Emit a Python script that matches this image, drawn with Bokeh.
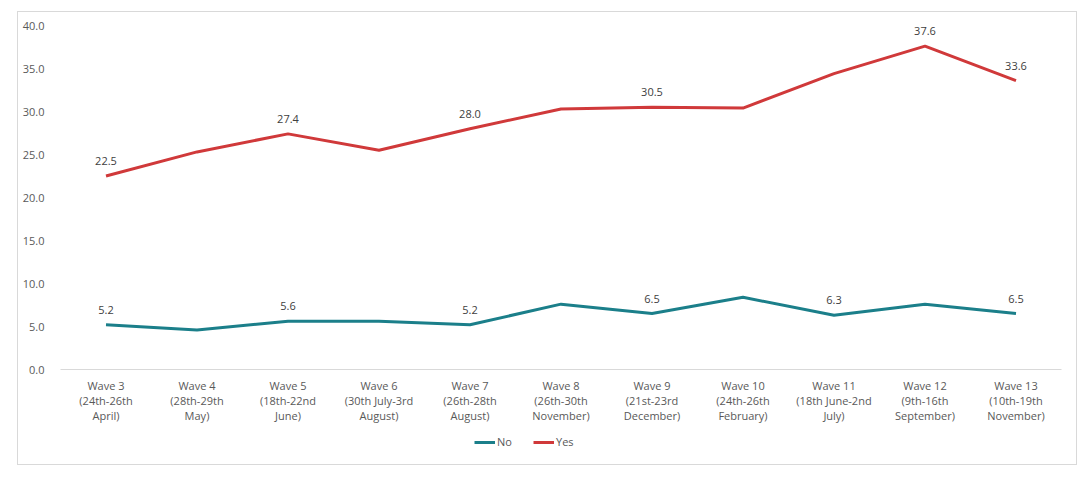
from bokeh.plotting import figure
from bokeh.layouts import column
from bokeh.models import ColumnDataSource, Legend, LegendItem, NumeralTickFormatter, FixedTicker, Range1d
from bokeh.embed import file_html
from bokeh.resources import INLINE
from bokeh.core.properties import value

waves = ["Wave 3\n(24th-26th\nApril)", "Wave 4\n(28th-29th\nMay)", "Wave 5\n(18th-22nd\nJune)",
         "Wave 6\n(30th July-3rd\nAugust)", "Wave 7\n(26th-28th\nAugust)", "Wave 8\n(26th-30th\nNovember)",
         "Wave 9\n(21st-23rd\nDecember)", "Wave 10\n(24th-26th\nFebruary)", "Wave 11\n(18th June-2nd\nJuly)",
         "Wave 12\n(9th-16th\nSeptember)", "Wave 13\n(10th-19th\nNovember)"]
no_vals = [5.2, 4.6, 5.6, 5.6, 5.2, 7.6, 6.5, 8.4, 6.3, 7.6, 6.5]
yes_vals = [22.5, 25.3, 27.4, 25.5, 28.0, 30.3, 30.5, 30.4, 34.4, 37.6, 33.6]
no_labeled = [0, 2, 4, 6, 8, 10]
yes_labeled = [0, 2, 4, 6, 9, 10]
y_ticks = [0, 5, 10, 15, 20, 25, 30, 35, 40]
series_names = ["No", "Yes"]

FONT = "Open Sans"
TXT = "#595959"
NO_C = "#1B7F8A"
YES_C = "#D0393A"

p = figure(x_range=waves, y_range=(0, 40), width=1058, height=413,
           output_backend="svg", toolbar_location=None,
           min_border_left=42, min_border_right=15, min_border_top=13, min_border_bottom=40)
p.outline_line_color = None
p.xgrid.grid_line_color = None
p.ygrid.grid_line_color = None

p.yaxis.ticker = FixedTicker(ticks=y_ticks)
p.yaxis.formatter = NumeralTickFormatter(format="0.0")
p.yaxis.axis_line_color = None
p.yaxis.major_tick_line_color = None
p.yaxis.minor_tick_line_color = None
p.yaxis.major_label_text_font = FONT
p.yaxis.major_label_text_font_size = "11px"
p.yaxis.major_label_text_color = TXT
p.yaxis.major_label_standoff = 10

p.xaxis.axis_line_color = "#d9d9d9"
p.xaxis.major_tick_line_color = None
p.xaxis.minor_tick_line_color = None
p.xaxis.major_label_text_font = FONT
p.xaxis.major_label_text_font_size = "11px"
p.xaxis.major_label_text_color = TXT
p.xaxis.major_label_standoff = 2
p.xaxis.major_label_text_line_height = 1.0

src = ColumnDataSource(dict(x=waves, no=no_vals, yes=yes_vals))
p.line("x", "no", source=src, line_color=NO_C, line_width=3)
p.line("x", "yes", source=src, line_color=YES_C, line_width=3)

lab_no = ColumnDataSource(dict(x=[waves[i] for i in no_labeled],
                               y=[no_vals[i] for i in no_labeled],
                               t=["%.1f" % no_vals[i] for i in no_labeled]))
lab_yes = ColumnDataSource(dict(x=[waves[i] for i in yes_labeled],
                                y=[yes_vals[i] for i in yes_labeled],
                                t=["%.1f" % yes_vals[i] for i in yes_labeled]))
for s in (lab_no, lab_yes):
    p.text("x", "y", text="t", source=s, text_font=value(FONT), text_font_size="11px",
           text_color="#404040", text_align="center", text_baseline="middle", y_offset=-15)

# legend strip below the chart (legend lines sit outside the visible range)
pl = figure(width=1058, height=39, x_range=Range1d(0, 1), y_range=Range1d(0, 1),
            output_backend="svg", toolbar_location=None, x_axis_type=None, y_axis_type=None,
            min_border=0)
pl.outline_line_color = None
pl.xgrid.grid_line_color = None
pl.ygrid.grid_line_color = None
l_no = pl.line(x=[5, 6], y=[5, 6], line_color=NO_C, line_width=3)
l_yes = pl.line(x=[5, 6], y=[5, 6], line_color=YES_C, line_width=3)
legend = Legend(items=[LegendItem(label=series_names[0], renderers=[l_no]),
                       LegendItem(label=series_names[1], renderers=[l_yes])],
                orientation="horizontal", location=(414, 15),
                label_text_font=FONT, label_text_font_size="11px", label_text_color=TXT,
                glyph_width=21, glyph_height=12, label_height=12, label_standoff=2, spacing=16,
                padding=0, margin=0, border_line_color=None, background_fill_alpha=0)
pl.add_layout(legend, "center")

layout = column(p, pl, spacing=0, margin=(11, 0, 0, 17),
                styles={"border": "1px solid #d9d9d9"})

open("out.html", "w").write(file_html(layout, INLINE))
